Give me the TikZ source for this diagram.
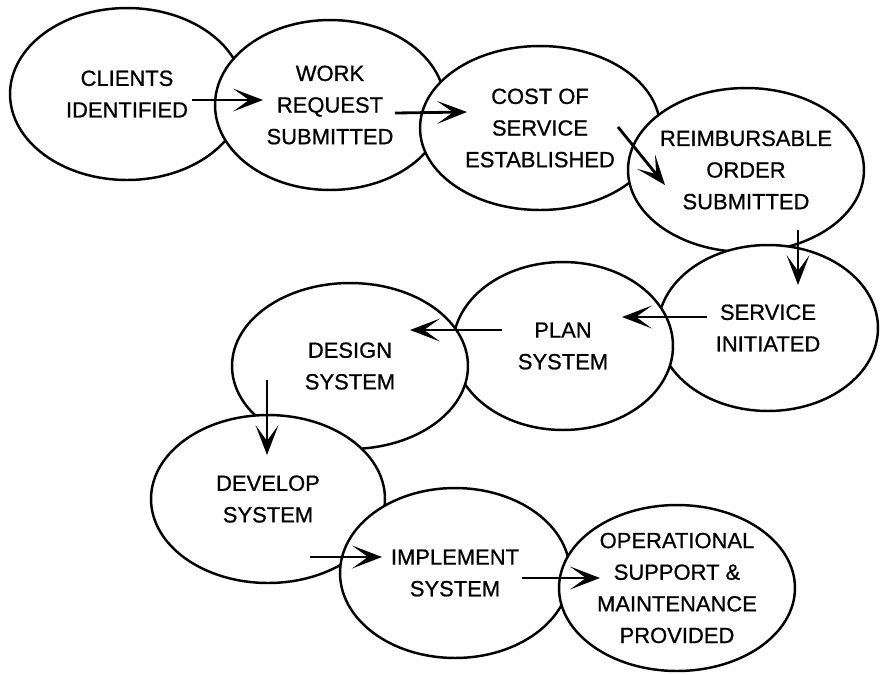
\documentclass[tikz,border=0pt]{standalone}
\usepackage{fontspec}
\setmainfont{Liberation Sans}[FakeBold=0.8]
\usetikzlibrary{shapes.geometric,arrows.meta,calc}

\begin{document}
\begin{tikzpicture}[x=0.02cm,y=-0.02cm,
    phase/.style={ellipse,draw,fill=white,line width=1.4pt,align=center,
      inner xsep=-6pt,inner ysep=-4pt,font=\fontsize{12.5}{18}\selectfont},
    flow/.style={line width=1.6pt,-{Stealth[length=17pt,width=13pt,inset=9pt]}}]
                \useasboundingbox (0,0) rectangle (880,674);
                % the phases, each one lying over the one before it
                \node[phase,minimum width=4.68cm,minimum height=3.44cm] (clients) at (127,94) {CLIENTS\\IDENTIFIED};
                \node[phase,minimum width=4.6cm,minimum height=3.4cm] (work) at (330,105) {WORK\\REQUEST\\SUBMITTED};
                \node[phase,minimum width=4.8cm,minimum height=3.28cm] (cost) at (540,128) {COST OF\\SERVICE\\ESTABLISHED};
                \node[phase,minimum width=4.72cm,minimum height=3.28cm] (reimb) at (746,170) {REIMBURSABLE\\ORDER\\SUBMITTED};
                \node[phase,minimum width=4.4cm,minimum height=3.32cm] (service) at (768,328) {SERVICE\\INITIATED};
                \node[phase,minimum width=4.4cm,minimum height=3.36cm] (plan) at (563,346) {PLAN\\SYSTEM};
                \node[phase,minimum width=4.72cm,minimum height=3.32cm] (design) at (350,366) {DESIGN\\SYSTEM};
                \node[phase,minimum width=4.68cm,minimum height=3.36cm] (develop) at (268,499) {DEVELOP\\SYSTEM};
                \node[phase,minimum width=4.6cm,minimum height=3.4cm] (implement) at (455,573) {IMPLEMENT\\SYSTEM};
                \node[phase,minimum width=4.72cm,minimum height=3.32cm] (operational) at (677,588) {OPERATIONAL\\SUPPORT \&\\MAINTENANCE\\PROVIDED};
                % arrows from phase to phase
                \draw[flow] ($(clients)+(65,6)$) -- ($(work)+(-67,-5)$);
                \draw[flow] ($(work)+(65,8)$) -- ($(cost)+(-73,-16)$);
                \draw[flow] ($(cost)+(78,-1)$) -- ($(reimb)+(-81,15)$);
                \draw[flow] ($(reimb)+(52,60)$) -- ($(service)+(30,-43)$);
                \draw[flow] ($(service)+(-61,-11)$) -- ($(plan)+(59,-29)$);
                \draw[flow] ($(plan)+(-61,-16)$) -- ($(design)+(60,-36)$);
                \draw[flow] ($(design)+(-83,14)$) -- ($(develop)+(-1,-44)$);
                \draw[flow] ($(develop)+(42,58)$) -- ($(implement)+(-73,-16)$);
                \draw[flow] ($(implement)+(67,5)$) -- ($(operational)+(-77,-10)$);
            \end{tikzpicture}
\end{document}
